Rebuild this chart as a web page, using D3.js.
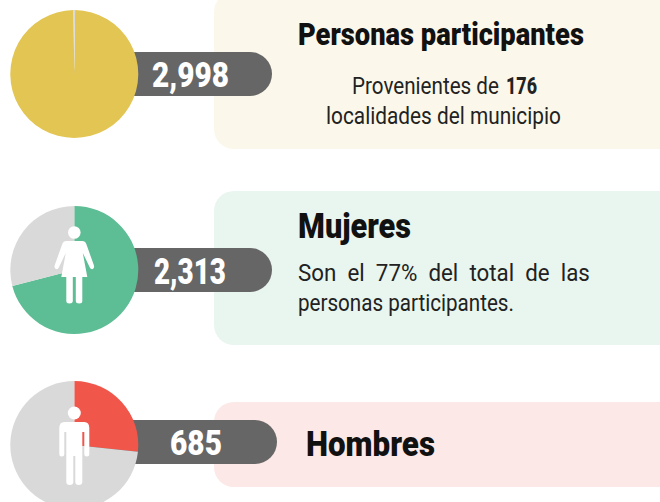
<!DOCTYPE html>
<html lang="es">
<head>
<meta charset="utf-8">
<script src="https://cdn.jsdelivr.net/npm/d3@7"></script>
<style>
html,body{margin:0;padding:0;background:#fff;overflow:hidden}
svg{display:block}
text{font-family:"Roboto","DejaVu Sans",sans-serif}
</style>
</head>
<body>
<script>
// Data
const categories = ["Personas participantes", "Mujeres", "Hombres"];
const totals = ["2,998", "2,313", "685"];
const highlightedShare = [99.6, 71, 26.7];
const remainingShare = [0.4, 29, 73.3];
const startDegrees = [0.7, 0, 0];
const sliceColors = ["#E3C553", "#5DBD94", "#F0564A"];
const panelColors = ["#FBF8EB", "#E9F6F0", "#FCE8E7"];
const icons = ["", "woman", "man"];

const W = 660, H = 502;
const layout = [
  {cy:74,  pillTop:52,  pillEnd:272, panelTop:-8, panelBottom:149, numX:152, numW:77, numY:87, titleX:298, titleW:286, titleY:45, titleSize:32},
  {cy:270, pillTop:248, pillEnd:272, panelTop:191, panelBottom:345, numX:154, numW:72, numY:284, titleX:298, titleW:113, titleY:238, titleSize:36},
  {cy:445, pillTop:420, pillEnd:277, panelTop:402, panelBottom:487, numX:170, numW:52, numY:455, titleX:306, titleW:129, titleY:456, titleSize:36}
];
const cx = 74.3, R = 64, pillH = 44;

const svg = d3.select("body").append("svg").attr("width",W).attr("height",H).attr("viewBox",`0 0 ${W} ${H}`);
const arc = d3.arc().innerRadius(0).outerRadius(R);

// Places a text so that it spans exactly `width` px, squeezing it horizontally
function fitted(parent,x,y,width,str,size,weight,fill,spacing){
  const t = parent.append("text").attr("fill",fill).attr("font-size",size).attr("font-weight",weight).text(str);
  if(spacing) t.style("word-spacing",spacing+"px");
  const natural = t.node().getComputedTextLength();
  t.attr("transform",`translate(${x},${y}) scale(${width/natural},1)`);
  return t;
}

categories.forEach((name,i)=>{
  const L = layout[i];
  const g = svg.append("g");
  g.append("rect").attr("x",214).attr("y",L.panelTop).attr("width",486)
    .attr("height",L.panelBottom-L.panelTop).attr("rx",20).attr("fill",panelColors[i]);
  g.append("rect").attr("x",cx).attr("y",L.pillTop).attr("width",L.pillEnd-cx)
    .attr("height",pillH).attr("rx",22).attr("fill","#666666");

  const start = startDegrees[i]*Math.PI/180;
  const pie = d3.pie().sort(null).startAngle(start).endAngle(start+2*Math.PI);
  const slices = pie([highlightedShare[i], remainingShare[i]]);
  const pg = g.append("g").attr("transform",`translate(${cx},${L.cy})`);
  pg.selectAll("path").data(slices).join("path").attr("d",arc)
    .attr("fill",(d,j)=> j===0 ? sliceColors[i] : "#D9D9D9");

  if(icons[i]==="woman"){
    pg.append("circle").attr("cx",0).attr("cy",-37.5).attr("r",6.3).attr("fill","#fff");
    pg.append("path").attr("fill","#fff").attr("d",
      "M-8,-29 L8,-29 Q11,-29 12,-26 L19.5,-5 Q20.5,-2 18.5,-1 Q16.5,-0.4 15.5,-2.5 L8.5,-17 L13,7 L8,7 L8,31 Q8,33.5 5,33.5 Q1.5,33.5 1.5,31 L1.5,7 L-1.5,7 L-1.5,31 Q-1.5,33.5 -5,33.5 Q-8,33.5 -8,31 L-8,7 L-13,7 L-8.5,-17 L-15.5,-2.5 Q-16.5,-0.4 -18.5,-1 Q-20.5,-2 -19.5,-5 L-12,-26 Q-11,-29 -8,-29 Z");
  }
  if(icons[i]==="man"){
    pg.append("circle").attr("cx",0).attr("cy",-32).attr("r",6.5).attr("fill","#fff");
    pg.append("path").attr("fill","#fff").attr("d",
      "M-10,-23 L10,-23 Q15,-23 15,-17 L15,9 Q15,11.5 12.5,11.5 Q10,11.5 10,9 L10,-13 L8,-13 L8,37 Q8,40 4.5,40 Q1,40 1,37 L1,11 L-1,11 L-1,37 Q-1,40 -4.5,40 Q-8,40 -8,37 L-8,-13 L-10,-13 L-10,9 Q-10,11.5 -12.5,11.5 Q-15,11.5 -15,9 L-15,-17 Q-15,-23 -10,-23 Z");
  }

  fitted(g,L.numX,L.numY,L.numW,totals[i],36,900,"#fff");
  fitted(g,L.titleX,L.titleY,L.titleW,name,L.titleSize,900,"#111");
});

fitted(svg,352,94,147,"Provenientes de",24,400,"#222");
fitted(svg,506,94,31,"176",24,800,"#222");
fitted(svg,326,124,235,"localidades del municipio",24,400,"#222");
fitted(svg,298,281,292,"Son el 77% del total de las",24,400,"#222",6);
fitted(svg,298,311,216,"personas participantes.",24,400,"#222");
</script>
</body>
</html>
